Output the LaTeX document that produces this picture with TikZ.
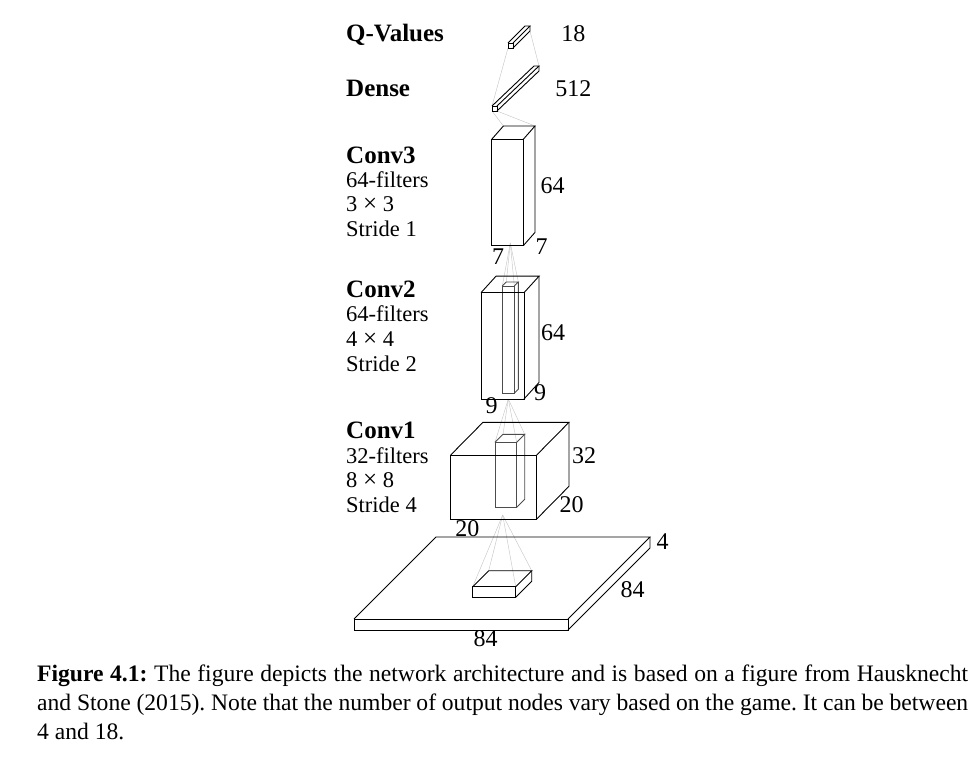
\documentclass[tikz,border=0pt]{standalone}
\usepackage{fontspec}
\setmainfont{Liberation Serif}
\usetikzlibrary{calc}
\newcommand\mkprism[8]{%
  \coordinate (#1-ftl) at (#3,#4);
  \coordinate (#1-ftr) at (#5,#4);
  \coordinate (#1-fbl) at (#3,#6);
  \coordinate (#1-fbr) at (#5,#6);
  \coordinate (#1-btl) at ({#3+(#7)},{#4+(#8)});
  \coordinate (#1-btr) at ({#5+(#7)},{#4+(#8)});
  \coordinate (#1-bbr) at ({#5+(#7)},{#6+(#8)});
  \draw[#2] (#1-ftl) -- (#1-ftr) -- (#1-fbr) -- (#1-fbl) -- cycle;
  \draw[#2] (#1-ftl) -- (#1-btl) -- (#1-btr) -- (#1-ftr);
  \draw[#2] (#1-btr) -- (#1-bbr) -- (#1-fbr);
}
\begin{document}
\frenchspacing
\begin{tikzpicture}[x=1pt,y=-1pt,
  outline/.style={draw=black,line width=0.9pt,line join=miter},
  kernel/.style={draw=black!70,line width=0.9pt,line join=miter},
  link/.style={draw=black!22,line width=0.45pt},
  lbl/.style={font=\fontsize{24}{26}\selectfont,inner sep=0pt},
  txt/.style={font=\fontsize{22.5}{24.5}\selectfont,inner sep=0pt,anchor=base west},
  ttl/.style={font=\fontsize{25}{27}\selectfont\bfseries,inner sep=0pt,anchor=base west}]
\useasboundingbox (0,0) rectangle (978,770);

\path (502.7,515) coordinate (apex1) (508.3,399) coordinate (apex2) (510.3,243) coordinate (apex3);

% geometry (invisible, defines corner coordinates)
\begin{scope}[opacity=0]
\mkprism{slab}{outline}{354}{619}{568}{630}{82}{-82}
\mkprism{inbox}{outline}{472.7}{586.7}{515.7}{597.3}{16}{-16}
\mkprism{conva}{outline}{450.7}{455}{536.7}{519}{32.3}{-32.7}
\mkprism{ka}{kernel}{495}{442.3}{516.7}{507.3}{8}{-8}
\mkprism{convb}{outline}{481}{292.7}{524}{399}{15}{-16.5}
\mkprism{kb}{kernel}{502.3}{286}{514.3}{393.3}{4}{-4}
\mkprism{convc}{outline}{491.7}{139.3}{523.3}{245.7}{11.7}{-13.3}
\mkprism{dense}{outline}{492}{106}{497}{111}{42}{-40}
\mkprism{qv}{outline}{508}{43}{513}{48}{17}{-17}
\end{scope}

% links
\foreach \c in {ftl,ftr,btl,btr} {
  \draw[link] (apex1) -- (inbox-\c);
  \draw[link] (apex2) -- (ka-\c);
  \draw[link] (apex3) -- (kb-\c);
}
\draw[link] (convc-btl) -- (dense-fbl);
\draw[link] (convc-btr) -- (dense-fbr);
\draw[link] (dense-ftl) -- (qv-fbl);
\draw[link] (dense-btr) -- (qv-bbr);

% boxes
\mkprism{slab}{outline}{354}{619}{568}{630}{82}{-82}
\mkprism{inbox}{outline}{472.7}{586.7}{515.7}{597.3}{16}{-16}
\mkprism{ka}{kernel}{495}{442.3}{516.7}{507.3}{8}{-8}
\mkprism{conva}{outline}{450.7}{455}{536.7}{519}{32.3}{-32.7}
\mkprism{kb}{kernel}{502.3}{286}{514.3}{393.3}{4}{-4}
\mkprism{convb}{outline}{481}{292.7}{524}{399}{15}{-16.5}
\mkprism{convc}{outline}{491.7}{139.3}{523.3}{245.7}{11.7}{-13.3}
\mkprism{dense}{outline}{492}{106}{497}{111}{42}{-40}
\mkprism{qv}{outline}{508}{43}{513}{48}{17}{-17}

% dimension labels
\node[lbl] (l18) at (573.3,33.3) {18};
\node[lbl] (l512) at (573.3,89) {512};
\node[lbl] (l64c) at (552.5,186) {64};
\node[lbl] (l7r) at (541.7,246.7) {7};
\node[lbl] (l7b) at (498,257) {7};
\node[lbl] (l64b) at (553,333) {64};
\node[lbl] (l9r) at (540,393) {9};
\node[lbl] (l9b) at (491.7,406) {9};
\node[lbl] (l32) at (584,455.7) {32};
\node[lbl] (l20r) at (571.7,504.3) {20};
\node[lbl] (l20b) at (467.3,528.3) {20};
\node[lbl] (l4) at (662.7,541.7) {4};
\node[lbl] (l84r) at (632.7,590) {84};
\node[lbl] (l84b) at (485.7,638.3) {84};

% layer labels
\node[ttl] (tq) at (346,41.7) {Q-Values};
\node[ttl] (td) at (346,96.7) {Dense};
\node[ttl] (t3) at (346,163.3) {Conv3};
\node[txt] (t3a) at (346,187.5) {64-filters};
\node[txt] (t3b) at (346,212) {3 {\fontsize{25}{25}\selectfont ×} 3};
\node[txt] (t3c) at (346,236.5) {Stride 1};
\node[ttl] (t2) at (346,297.5) {Conv2};
\node[txt] (t2a) at (346,322) {64-filters};
\node[txt] (t2b) at (346,346.5) {4 {\fontsize{25}{25}\selectfont ×} 4};
\node[txt] (t2c) at (346,371) {Stride 2};
\node[ttl] (t1) at (346,438.3) {Conv1};
\node[txt] (t1a) at (346,463) {32-filters};
\node[txt] (t1b) at (346,487.5) {8 {\fontsize{25}{25}\selectfont ×} 8};
\node[txt] (t1c) at (346,512) {Stride 4};

% caption
\node[anchor=north west,text width=931pt,align=justify,inner sep=0pt,
  font=\fontsize{23.6}{29}\selectfont] (cap) at (37,664.5)
  {\textbf{Figure 4.1:} The figure depicts the network architecture and is based on a figure from Hausknecht\linebreak and Stone (2015). Note that the number of output nodes vary based on the game. It can be between\linebreak 4 and 18.};
\end{tikzpicture}
\end{document}
